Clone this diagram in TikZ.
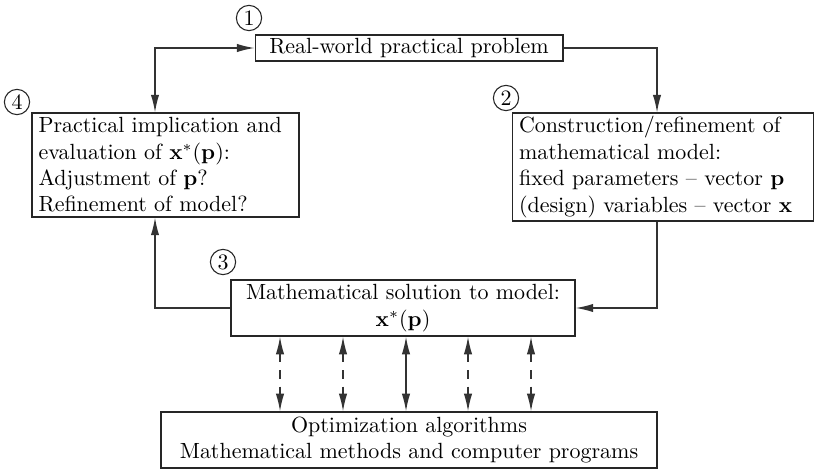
\documentclass[tikz,border=0pt]{standalone}
\usetikzlibrary{arrows.meta}

\tikzset{
  box/.style={draw=black!85,line width=0.6pt,inner xsep=3pt,inner ysep=1.5pt},
  numcirc/.style={circle,draw=black!85,line width=0.5pt,minimum size=11.5pt,inner sep=0pt},
  conn/.style={draw=black!80,line width=0.6pt,-{Latex[length=8pt,width=3.8pt]}},
  both/.style={conn,{Latex[length=8pt,width=3.8pt]}-{Latex[length=8pt,width=3.8pt]}},
  dashlink/.style={dash pattern=on 4pt off 3.5pt},
  solidlink/.style={solid}
}

\begin{document}
\begin{tikzpicture}[x=0.455pt,y=-0.455pt,font=\normalsize]

\useasboundingbox (0,0) rectangle (819,470);

% boxes
\node[box,minimum width=140pt,minimum height=11.8pt] (prob) at (409,48) {Real-world practical problem};
\node[box,text width=115.5pt,align=left,minimum height=47.3pt] (impl) at (165.5,165) {Practical implication and\\ evaluation of $\mathbf{x}^*(\mathbf{p})$:\\ Adjustment of $\mathbf{p}$?\\ Refinement of model?};
\node[box,text width=131pt,align=left,minimum height=45.5pt] (model) at (663,167) {Construction/refinement of\\ mathematical model:\\ fixed parameters -- vector $\mathbf{p}$\\ (design) variables -- vector $\mathbf{x}$};
\node[box,minimum width=156.5pt,minimum height=25.5pt,align=center] (sol) at (403,308) {Mathematical solution to model:\\ $\mathbf{x}^*(\mathbf{p})$};
\node[box,minimum width=225.7pt,minimum height=25.5pt,align=center] (algo) at (409,440) {Optimization algorithms\\ Mathematical methods and computer programs};

% step numbers
\node[numcirc] (n1) at (249,18) {1};
\node[numcirc] (n2) at (506,98) {2};
\node[numcirc] (n3) at (223,262) {3};
\node[numcirc] (n4) at (17,102) {4};

% connectors
\coordinate (lx) at (155,0);
\coordinate (rx) at (657,0);
\draw[both] (impl.north -| lx) |- (prob.west);
\draw[conn] (prob.east) -| (model.north -| rx);
\draw[conn] (model.south -| rx) |- (sol.east);
\draw[conn] (sol.west) -| (impl.south -| lx);

\foreach \x/\s in {280/dashlink,343/dashlink,406/solidlink,468/dashlink,531/dashlink}{
  \coordinate (ax) at (\x,0);
  \draw[both,\s] (sol.south -| ax) -- (algo.north -| ax);
}

\end{tikzpicture}
\end{document}
